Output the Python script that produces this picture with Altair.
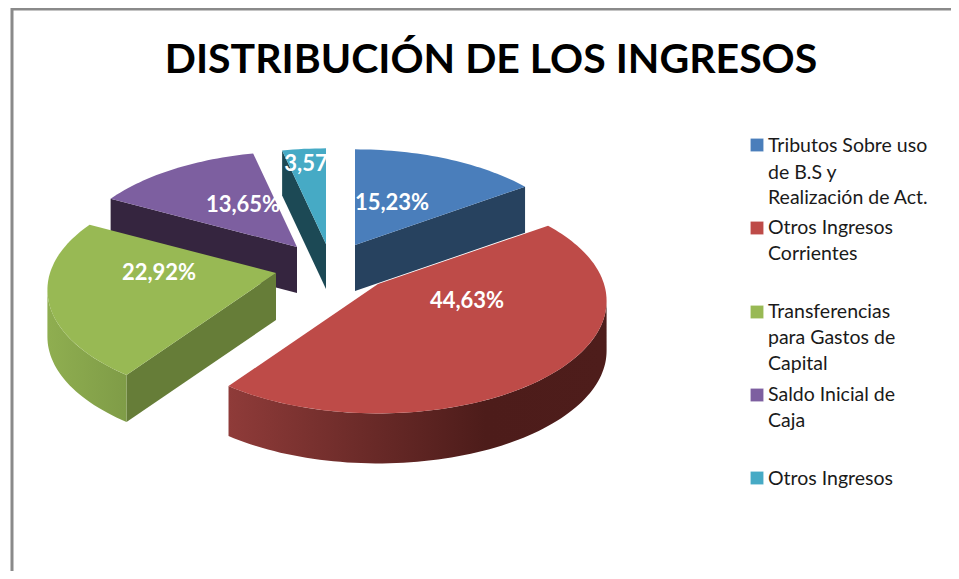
import math
import altair as alt
import pandas as pd

# ---------- data ----------
categories = ["Tributos Sobre uso de B.S y Realización de Act.", "Otros Ingresos Corrientes",
              "Transferencias para Gastos de Capital", "Saldo Inicial de Caja", "Otros Ingresos"]
values = [15.23, 44.63, 22.92, 13.65, 3.57]
value_labels = ["15,23%", "44,63%", "22,92%", "13,65%", "3,57"]
top_colors = ["#4a7ebb", "#be4b48", "#98b954", "#7d5fa0", "#46aac5"]
side_colors = ["#27425f", None, "#667d38", "#35253f", "#1c4955"]
legend_lines = [["Tributos Sobre uso", "de B.S y", "Realización de Act."],
                ["Otros Ingresos", "Corrientes"],
                ["Transferencias", "para Gastos de", "Capital"],
                ["Saldo Inicial de", "Caja"],
                ["Otros Ingresos"]]

# ---------- layout (page pixels) ----------
PAGE = 8
W, H = 943, 563
RX, RY, PERSP = 226, 110, 0.15        # projected pie radii and perspective
apex = [(355, 245), (378, 284), (276, 273), (297, 247), (326, 244)]
depth = [46, 50, 47, 46, 45]
side_angle_is_end = [True, None, False, False, False]
paint_order = [4, 3, 0, 2, 1]
label_xy = [(392, 203), (467, 301), (159, 273), (243, 205), (306, 164)]
legend_square_y = [145, 228, 312, 395, 478]
legend_line_y = [[146, 173, 198], [228, 254], [312, 338, 364], [395, 421], [479]]

# ---------- geometry derived from the values ----------
cum = [0.0]
for v in values:
    cum.append(cum[-1] + v)
total = cum[-1]
angles = [c / total * 2 * math.pi for c in cum]


def pt(i, t, dz=0):
    w = 1 + PERSP * math.cos(t)
    return [apex[i][0] + RX * math.sin(t) / w, apex[i][1] - RY * math.cos(t) / w + dz]


def arc(i, a, b, dz=0):
    n = max(2, int(abs(b - a) / math.radians(1.5)))
    return [pt(i, a + (b - a) * k / n, dz) for k in range(n + 1)]


def feature(points, name):
    ring = [[round(x, 2), round(y, 2)] for x, y in points]
    ring.append(ring[0])
    return {"type": "Feature", "properties": {"name": name},
            "geometry": {"type": "Polygon", "coordinates": [ring]}}


layers = []


def shape(points, fill, name):
    return alt.Chart(alt.Data(values=[feature(points, name)])).mark_geoshape(
        fill=fill, strokeWidth=0).project(type="identity", scale=1, translate=[-PAGE, -PAGE])


RED_WALL = alt.Gradient(gradient="linear", x1=0, x2=1, y1=0, y2=0, stops=[
    alt.GradientStop(color="#8f3b39", offset=0), alt.GradientStop(color="#6c2b29", offset=0.35),
    alt.GradientStop(color="#4d1c1a", offset=0.68), alt.GradientStop(color="#4e1d1b", offset=1)])
GREEN_WALL = alt.Gradient(gradient="linear", x1=0, x2=1, y1=0, y2=0, stops=[
    alt.GradientStop(color="#8fae50", offset=0), alt.GradientStop(color="#7f9c47", offset=1)])
arc_walls = {1: RED_WALL, 2: GREEN_WALL}
front_a, front_b = math.pi / 2 + 0.15, 3 * math.pi / 2 - 0.15

for i in paint_order:
    a, b = angles[i], angles[i + 1]
    name = categories[i]
    # radial face
    if side_angle_is_end[i] is not None:
        t = b if side_angle_is_end[i] else a
        quad = [pt(i, t), list(apex[i]), [apex[i][0], apex[i][1] + depth[i]], pt(i, t, depth[i])]
        layers.append(shape(quad, side_colors[i], name))
    # outer wall
    if i in arc_walls:
        s, e = max(a, front_a), min(b, front_b)
        layers.append(shape(arc(i, s, e) + arc(i, e, s, depth[i]), arc_walls[i], name))
    # top surface
    layers.append(shape([list(apex[i])] + arc(i, a, b), top_colors[i], name))

px = alt.Scale(domain=[PAGE, PAGE + W], range=[0, W])
py = alt.Scale(domain=[PAGE, PAGE + H], range=[0, H])

# value labels
labels_df = pd.DataFrame({"x": [p[0] for p in label_xy], "y": [p[1] for p in label_xy],
                          "t": value_labels})
layers.append(alt.Chart(labels_df).mark_text(font="Lato", fontWeight="bold", fontSize=22, color="white").encode(
    x=alt.X("x:Q", scale=px, axis=None), y=alt.Y("y:Q", scale=py, axis=None), text="t:N"))

# legend
sq_df = pd.DataFrame({"x": [757] * 5, "y": legend_square_y, "c": categories})
layers.append(alt.Chart(sq_df).mark_square(size=165, opacity=1, filled=True).encode(
    x=alt.X("x:Q", scale=px, axis=None), y=alt.Y("y:Q", scale=py, axis=None),
    color=alt.Color("c:N", scale=alt.Scale(domain=categories, range=top_colors), legend=None)))
rows = [{"x": 768, "y": y, "t": t} for ls, ys in zip(legend_lines, legend_line_y) for t, y in zip(ls, ys)]
layers.append(alt.Chart(pd.DataFrame(rows)).mark_text(font="Lato", fontSize=19.5, align="left", color="#1a1a1a").encode(
    x=alt.X("x:Q", scale=px, axis=None), y=alt.Y("y:Q", scale=py, axis=None), text="t:N"))

# title
title_df = pd.DataFrame({"x": [491], "y": [61], "t": ["DISTRIBUCIÓN DE LOS INGRESOS"]})
layers.append(alt.Chart(title_df).mark_text(font="Lato", fontWeight="bold", fontSize=41, color="black").encode(
    x=alt.X("x:Q", scale=px, axis=None), y=alt.Y("y:Q", scale=py, axis=None), text="t:N"))

# frame
layers.append(alt.Chart(pd.DataFrame({"a": [0]})).mark_rule(color="#8a8a8a", strokeWidth=3).encode(
    x=alt.value(4), y=alt.value(0), y2=alt.value(H)))
layers.append(alt.Chart(pd.DataFrame({"a": [0]})).mark_rule(color="#8a8a8a", strokeWidth=3).encode(
    x=alt.value(3), x2=alt.value(W), y=alt.value(1)))

chart = alt.layer(*layers).properties(
    width=W, height=H, padding=0, autosize=alt.AutoSizeParams(type="none"),
    background="white").configure_view(stroke=None)

chart.save("out.html", embed_options={"renderer": "svg", "actions": False})
